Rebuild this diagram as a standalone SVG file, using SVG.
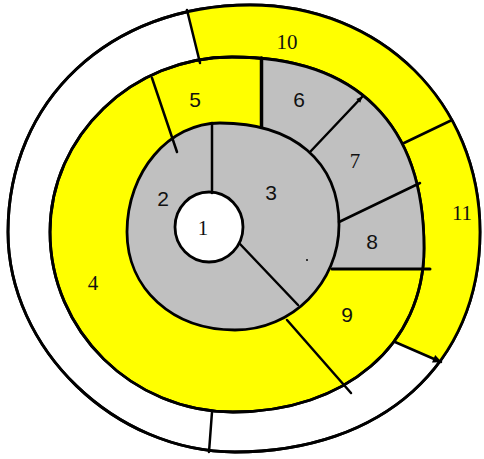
<svg xmlns="http://www.w3.org/2000/svg" width="484" height="459" viewBox="0 0 484 459">
<style>
.ring{stroke:#000;stroke-width:2.8}
.div{stroke:#000;stroke-width:2.5;fill:none;stroke-linecap:round}
.lbl{font-family:"Liberation Sans",Arial,sans-serif;font-size:21px;fill:#111;text-anchor:middle}
.ser{font-family:"Liberation Serif","Times New Roman",serif}
</style>
<defs>
<clipPath id="clipOuter"><path d="M250,5 C381,5 480,103 480,232 C480,364 382,452 235,452 C115,452 8,349 8,232 C8,100 110,5 250,5 Z"/></clipPath>
<clipPath id="clipSecond"><path d="M232,57 C356.8,57 424,123.8 424,248 C424,344.8 345.7,412 233,412 C132.3,412 50,331 50,232 C50,135.7 131.9,57 232,57 Z"/></clipPath>
<marker id="arrow" viewBox="0 0 10 10" refX="9" refY="5" markerWidth="16" markerHeight="9" markerUnits="userSpaceOnUse" orient="auto"><path d="M0,0.5 L10,5 L0,9.5 Z" fill="#000"/></marker>
<marker id="tip" viewBox="0 0 10 10" refX="9" refY="5" markerWidth="7" markerHeight="6" markerUnits="userSpaceOnUse" orient="auto"><path d="M0,0.5 L10,5 L0,9.5 Z" fill="#000"/></marker>
</defs>
<rect width="484" height="459" fill="#fff"/>
<g id="outer-ring">
<path class="ring" fill="#fff" d="M250,5 C381,5 480,103 480,232 C480,364 382,452 235,452 C115,452 8,349 8,232 C8,100 110,5 250,5 Z"/>
<polygon id="seg10-11" fill="#ffff00" clip-path="url(#clipOuter)" points="236,234 200,62 180,-20 520,-20 520,385 462,372 395,342"/>
<path fill="none" class="ring" d="M250,5 C381,5 480,103 480,232 C480,364 382,452 235,452 C115,452 8,349 8,232 C8,100 110,5 250,5 Z"/>
</g>
<g id="middle-ring">
<path class="ring" fill="#ffff00" d="M232,57 C356.8,57 424,123.8 424,248 C424,344.8 345.7,412 233,412 C132.3,412 50,331 50,232 C50,135.7 131.9,57 232,57 Z"/>
<polygon id="seg6-8" fill="#c0c0c0" clip-path="url(#clipSecond)" points="236,232 261,127 261,20 470,20 470,269 332,269"/>
<path fill="none" class="ring" d="M232,57 C356.8,57 424,123.8 424,248 C424,344.8 345.7,412 233,412 C132.3,412 50,331 50,232 C50,135.7 131.9,57 232,57 Z"/>
</g>
<g id="inner-ring">
<path class="ring" fill="#c0c0c0" d="M220,123 C293.8,123 339,161.8 339,225 C339,282.8 292.2,330 235,330 C172.4,330 127,288.8 127,232 C127,172 168.8,123 220,123 Z"/>
</g>
<g id="core">
<ellipse class="ring" fill="#fff" cx="209" cy="227" rx="34" ry="35"/>
</g>
<g id="dividers">
<line class="div" x1="212" y1="123" x2="212" y2="193"/>
<line class="div" x1="240" y1="244" x2="298" y2="305"/>
<line class="div" x1="152" y1="78" x2="177" y2="152"/>
<line class="div" x1="187" y1="10" x2="200" y2="63"/>
<line class="div" style="stroke-width:3.5" x1="261.5" y1="58" x2="261.5" y2="127"/>
<line class="div" x1="310" y1="152" x2="362" y2="97" marker-end="url(#tip)"/>
<line class="div" x1="339" y1="222" x2="420" y2="183"/>
<line class="div" style="stroke-width:3" x1="332" y1="269" x2="430" y2="269"/>
<line class="div" x1="404" y1="143" x2="452" y2="120"/>
<line class="div" x1="395" y1="342" x2="441" y2="362" marker-end="url(#arrow)"/>
<line class="div" x1="287" y1="320" x2="351" y2="393"/>
<line class="div" x1="212" y1="412" x2="209" y2="452"/>
<rect x="306" y="259" width="2" height="2" fill="#333"/>
</g>
<g id="labels">
<text class="lbl ser" x="203" y="235">1</text>
<text class="lbl" x="163" y="206">2</text>
<text class="lbl" x="271" y="200">3</text>
<text class="lbl ser" x="93" y="290">4</text>
<text class="lbl" x="195" y="107">5</text>
<text class="lbl" x="299" y="107">6</text>
<text class="lbl ser" x="355" y="168">7</text>
<text class="lbl" x="372" y="249">8</text>
<text class="lbl" x="347" y="322">9</text>
<text class="lbl ser" x="287" y="49">10</text>
<text class="lbl ser" x="462" y="220">11</text>
</g>
</svg>
